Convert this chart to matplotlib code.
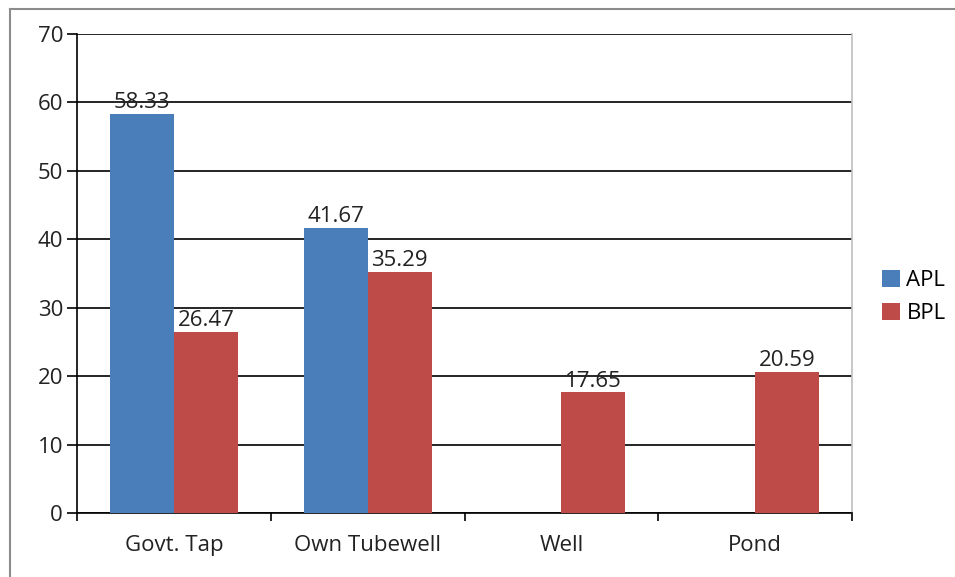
import matplotlib
matplotlib.use("Agg")
import matplotlib.pyplot as plt
from matplotlib.lines import Line2D
import numpy as np

plt.rcParams['font.family'] = ['Open Sans', 'DejaVu Sans']

categories = ["Govt. Tap", "Own Tubewell", "Well", "Pond"]
apl = [58.33, 41.67, 0, 0]
bpl = [26.47, 35.29, 17.65, 20.59]
yticks = [0, 10, 20, 30, 40, 50, 60, 70]

blue = '#4a7ebb'
red = '#be4b48'
fs = 16

fig = plt.figure(figsize=(9.55, 5.77), dpi=100)
ax = fig.add_axes([77/955, 1 - 513/577, (852 - 77)/955, (513 - 34)/577])

# outer frame: only top and left edges show
fx, fy = 9.5/955, 1 - 8.5/577
fig.lines.append(Line2D([fx, 1], [fy, fy], transform=fig.transFigure, color='#8c8c8c', lw=1.5))
fig.lines.append(Line2D([fx, fx], [0, fy], transform=fig.transFigure, color='#8c8c8c', lw=1.5))

x = np.arange(len(categories))
w = 0.33
b1 = ax.bar(x - w/2, apl, w, color=blue, label='APL', zorder=3)
b2 = ax.bar(x + w/2, bpl, w, color=red, label='BPL', zorder=3)

for bars, vals in [(b1, apl), (b2, bpl)]:
    for rect, v in zip(bars, vals):
        if v > 0:
            ax.text(rect.get_x() + rect.get_width()/2, v + 0.1, f"{v:.2f}",
                    ha='center', va='bottom', fontsize=fs, color='#222222', zorder=4)

ax.set_xlim(-0.5, len(categories) - 0.5)
ax.set_ylim(0, 70)
ax.set_yticks(yticks)
ax.yaxis.grid(True, color='black', linewidth=1.2, zorder=0)
ax.set_axisbelow(True)

ax.set_xticks(x)
ax.set_xticklabels(categories)
ax.set_xticks(np.arange(len(categories) + 1) - 0.5, minor=True)
ax.tick_params(axis='x', which='major', length=0, pad=16, labelsize=fs, labelcolor='#222222')
ax.tick_params(axis='x', which='minor', length=6, width=1.2, direction='out')
ax.tick_params(axis='y', length=7, width=1.2, direction='out', labelsize=fs,
               labelcolor='#222222', pad=3)

for s in ['left', 'bottom']:
    ax.spines[s].set_color('black')
    ax.spines[s].set_linewidth(1.2)
ax.spines['top'].set_visible(False)
ax.spines['right'].set_color('#bfbfbf')
ax.spines['right'].set_linewidth(1.2)

fig.legend(handles=[b1, b2], labels=['APL', 'BPL'], loc='center left',
           bbox_to_anchor=(862/955, 1 - 297/577), frameon=False, fontsize=fs,
           handlelength=0.8, handleheight=0.8, handletextpad=0.3, labelspacing=0.5)

fig.savefig('out.png', dpi=100)
